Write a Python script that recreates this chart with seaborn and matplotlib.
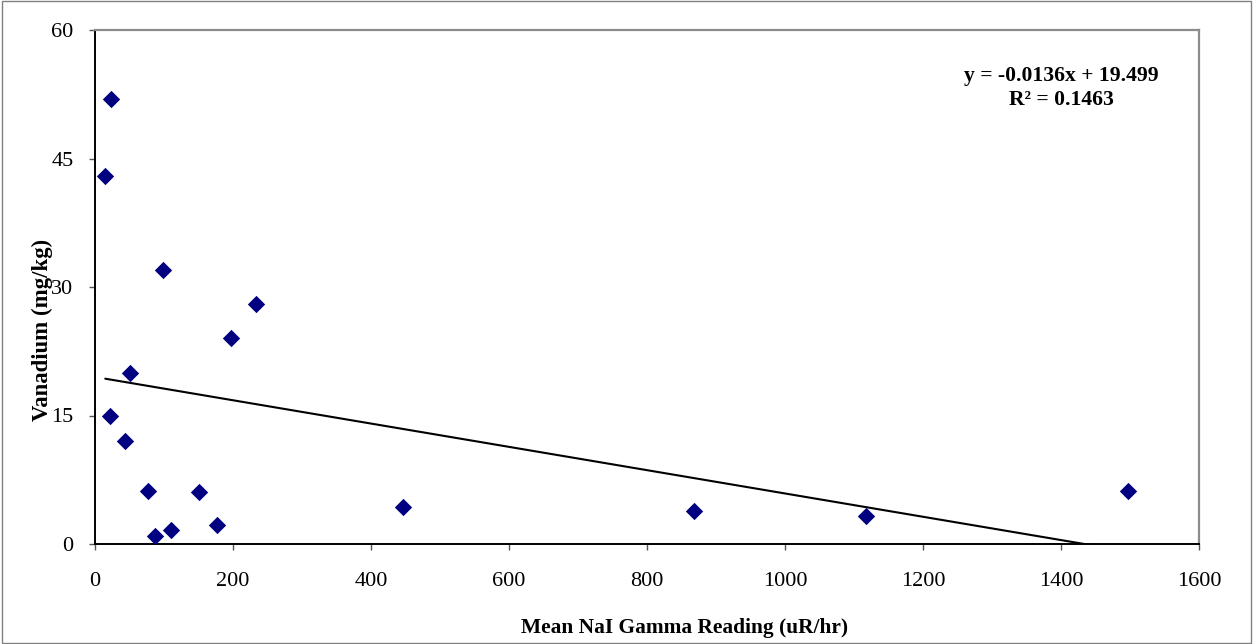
import matplotlib
matplotlib.use("Agg")
import matplotlib.pyplot as plt
import seaborn as sns
import numpy as np
import pandas as pd
from matplotlib.patches import Rectangle

# ---- data ----
gamma = [14.9, 23.2, 21.7, 43.9, 50.7, 98.5, 76.7, 86.9, 110.0, 150.6,
         176.7, 197.4, 233.6, 447.0, 868.0, 1118.0, 1497.0]
vanadium = [43.0, 52.0, 15.0, 12.0, 20.0, 32.0, 6.2, 0.93, 1.6, 6.1,
            2.2, 24.0, 28.0, 4.3, 3.9, 3.3, 6.2]
slope = -0.0136
intercept = 19.499
r2 = 0.1463
x_ticks = [0, 200, 400, 600, 800, 1000, 1200, 1400, 1600]
y_ticks = [0, 15, 30, 45, 60]
x_label = "Mean NaI Gamma Reading (uR/hr)"
y_label = "Vanadium (mg/kg)"

df = pd.DataFrame({"gamma": gamma, "vanadium": vanadium})

sns.set_theme(style="white")
plt.rcParams["font.family"] = ["Liberation Serif", "DejaVu Serif"]
plt.rcParams["text.color"] = "black"
plt.rcParams["axes.labelcolor"] = "black"
plt.rcParams["xtick.color"] = "black"
plt.rcParams["ytick.color"] = "black"

W, H = 1253, 644
L, R, T, B = 95, 1199, 30, 544
fig = plt.figure(figsize=(W / 100, H / 100), dpi=100)
ax = fig.add_axes([L / W, 1 - B / H, (R - L) / W, (B - T) / H])

sns.scatterplot(data=df, x="gamma", y="vanadium", marker="D", s=78,
                color="#000080", edgecolor="#000080", linewidth=0, ax=ax,
                zorder=3)

xl = np.array([min(gamma), max(gamma)])
sns.lineplot(x=xl, y=slope * xl + intercept, color="black", linewidth=1.5,
             ax=ax, zorder=2)

ax.set_xlim(0, 1600)
ax.set_ylim(0, 60)
ax.set_xticks(x_ticks)
ax.set_yticks(y_ticks)
ax.set_xticklabels([str(t) for t in x_ticks], fontsize=16)
ax.set_yticklabels([str(t) for t in y_ticks], fontsize=16)
ax.tick_params(axis="both", direction="out", length=4.5, width=1,
               color="#555555", labelcolor="black", bottom=True, left=True)
ax.tick_params(axis="x", pad=16)
ax.tick_params(axis="y", pad=11)

for s in ["left", "bottom"]:
    ax.spines[s].set_color("black")
    ax.spines[s].set_linewidth(1.4)
for s in ["top", "right"]:
    ax.spines[s].set_color("#8c8c8c")
    ax.spines[s].set_linewidth(1.6)

ax.set_xlabel(x_label, fontsize=15.4, fontweight="bold", color="black")
ax.set_ylabel(y_label, fontsize=16.4, fontweight="bold", color="black")
ax.xaxis.set_label_coords((685 - L) / (R - L), (B - 618) / (B - T))
ax.yaxis.set_label_coords((53 - L) / (R - L), (B - 330) / (B - T))

ax.text((1061 - L) / (R - L), (B - 88) / (B - T),
        f"y = {slope}x + {intercept}\nR\u00b2 = {r2}",
        transform=ax.transAxes, ha="center", va="center",
        fontsize=15.6, fontweight="bold", linespacing=1.3, color="black")

fig.patches.append(Rectangle((0.0012, 0.002), 0.9976, 0.996,
                             transform=fig.transFigure, fill=False,
                             edgecolor="#808080", linewidth=1))

fig.savefig("out.png", dpi=100)
